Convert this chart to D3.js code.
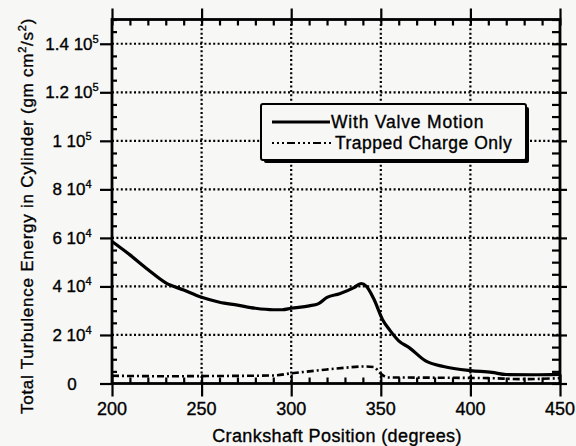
<!DOCTYPE html>
<html>
<head>
<meta charset="utf-8">
<script src="https://cdn.jsdelivr.net/npm/d3@7"></script>
<style>
  body { margin: 0; background: #f7f8f6; }
  svg { display: block; font-family: "Liberation Sans", Arial, sans-serif; }
  text { fill: #000; stroke: #000; stroke-width: 0.35px; }
</style>
</head>
<body>
<div id="chart"></div>
<script>
// crank angle (degrees) and turbulence energy
const valveDeg = [200, 210, 220, 230, 240, 250, 260, 270, 280, 290, 295, 300, 310, 315, 320, 327, 335, 339, 342, 346, 351, 355, 360, 366, 375, 385, 400, 412, 420, 435, 450];
const valveE   = [58500, 53000, 47000, 41500, 38500, 35500, 33500, 32300, 31000, 30400, 30400, 31000, 32000, 32800, 35500, 37000, 39500, 41200, 40000, 35000, 26300, 22000, 17600, 14700, 9300, 7000, 5300, 4600, 3700, 3600, 3800];

const trappedDeg = [200, 230, 260, 290, 300, 310, 320, 330, 340, 346, 350, 354, 380, 410, 430, 450];
const trappedE   = [3200, 3000, 3100, 3300, 4200, 5000, 5800, 6500, 7000, 6800, 4000, 2500, 2400, 2200, 1800, 2200];

const xTicks = [200, 250, 300, 350, 400, 450];
const yTicks = [0, 20000, 40000, 60000, 80000, 100000, 120000, 140000];
const yTickMant = ["0", "2", "4", "6", "8", "1", "1.2", "1.4"];
const yTickExp  = ["", "4", "4", "4", "4", "5", "5", "5"];

const seriesNames = ["With Valve Motion", "Trapped Charge Only"];
const xTitle = "Crankshaft Position (degrees)";

const W = 576, H = 446;
const pLeft = 112, pRight = 560, pTop = 19.5, pBottom = 383.5;

const svg = d3.select("#chart").append("svg")
    .attr("width", W).attr("height", H);

const x = d3.scaleLinear().domain([200, 450]).range([pLeft, pRight]);
const y = d3.scaleLinear().domain([0, 150000]).range([pBottom, pTop]);

const minorX = d3.range(200, 451, 10).filter(d => d % 50 !== 0);
const minorY = d3.range(0, 150001, 5000).filter(d => d % 20000 !== 0);

// dotted grid
const grid = svg.append("g")
    .attr("stroke", "#000").attr("stroke-width", 2.2)
    .attr("stroke-dasharray", "2,2.4").attr("stroke-linecap", "butt");
grid.selectAll(".gx").data(xTicks.slice(1, -1)).enter().append("line")
    .attr("x1", d => x(d)).attr("x2", d => x(d))
    .attr("y1", pTop).attr("y2", pBottom);
grid.selectAll(".gy").data(yTicks.slice(1)).enter().append("line")
    .attr("x1", pLeft).attr("x2", pRight)
    .attr("y1", d => y(d)).attr("y2", d => y(d));

// curves
const line = d3.line().curve(d3.curveMonotoneX);
const valvePts = valveDeg.map((d, i) => [x(d), y(valveE[i])]);
const trappedPts = trappedDeg.map((d, i) => [x(d), y(trappedE[i])]);

svg.append("path").attr("d", line(trappedPts))
    .attr("fill", "none").attr("stroke", "#000").attr("stroke-width", 2.6)
    .attr("stroke-dasharray", "7,3,2,3");
svg.append("path").attr("d", line(valvePts))
    .attr("fill", "none").attr("stroke", "#000").attr("stroke-width", 3.2)
    .attr("stroke-linejoin", "round");

// axes helper
function styleAxis(g) {
    g.select(".domain").remove();
    g.selectAll(".tick line").attr("stroke", "#000").attr("stroke-width", 2.2);
    g.selectAll(".tick text").remove();
}

// bottom: major ticks out, all ticks in
svg.append("g").attr("transform", `translate(0,${pBottom})`)
    .call(d3.axisBottom(x).tickValues(xTicks).tickSize(13)).call(styleAxis);
svg.append("g").attr("transform", `translate(0,${pBottom})`)
    .call(d3.axisTop(x).tickValues(xTicks).tickSize(9)).call(styleAxis);
svg.append("g").attr("transform", `translate(0,${pBottom})`)
    .call(d3.axisTop(x).tickValues(minorX).tickSize(6)).call(styleAxis);
// top
svg.append("g").attr("transform", `translate(0,${pTop})`)
    .call(d3.axisTop(x).tickValues(xTicks).tickSize(11)).call(styleAxis);
svg.append("g").attr("transform", `translate(0,${pTop})`)
    .call(d3.axisBottom(x).tickValues(minorX.concat(xTicks)).tickSize(6)).call(styleAxis);
// left
svg.append("g").attr("transform", `translate(${pLeft},0)`)
    .call(d3.axisLeft(y).tickValues(yTicks).tickSize(12)).call(styleAxis);
svg.append("g").attr("transform", `translate(${pLeft},0)`)
    .call(d3.axisRight(y).tickValues(minorY).tickSize(5)).call(styleAxis);
// right
svg.append("g").attr("transform", `translate(${pRight},0)`)
    .call(d3.axisRight(y).tickValues(yTicks).tickSize(7)).call(styleAxis);
svg.append("g").attr("transform", `translate(${pRight},0)`)
    .call(d3.axisLeft(y).tickValues(minorY.concat(yTicks)).tickSize(8)).call(styleAxis);

// frame
svg.append("rect").attr("x", pLeft).attr("y", pTop)
    .attr("width", pRight - pLeft).attr("height", pBottom - pTop)
    .attr("fill", "none").attr("stroke", "#000").attr("stroke-width", 2.8);

// tick labels
svg.append("g").selectAll("text").data(xTicks).enter().append("text")
    .attr("x", d => x(d)).attr("y", 415)
    .attr("text-anchor", "middle").attr("font-size", 18)
    .text(d => d);

const yl = svg.append("g").selectAll("text").data(yTicks).enter().append("text")
    .attr("x", 72).attr("y", d => y(d) + 6)
    .attr("text-anchor", "middle").attr("font-size", 17);
yl.append("tspan").text((d, i) => yTickExp[i] ? yTickMant[i] + " 10" : yTickMant[i]);
yl.append("tspan").attr("dy", -7).attr("font-size", 11)
    .text((d, i) => yTickExp[i]);

// axis titles
svg.append("text").attr("x", 337).attr("y", 442)
    .attr("text-anchor", "middle").attr("font-size", 18)
    .attr("letter-spacing", 0.4).text(xTitle);

const yt = svg.append("text")
    .attr("transform", "translate(33,216) rotate(-90)")
    .attr("text-anchor", "middle").attr("font-size", 17)
    .attr("letter-spacing", 0.75);
yt.append("tspan").text("Total Turbulence Energy in Cylinder (gm cm");
yt.append("tspan").attr("dy", -7).attr("font-size", 11).text("2");
yt.append("tspan").attr("dy", 7).text("/s");
yt.append("tspan").attr("dy", -7).attr("font-size", 11).text("2");
yt.append("tspan").attr("dy", 7).text(")");

// legend
const lg = svg.append("g");
lg.append("rect").attr("x", 264).attr("y", 107).attr("width", 265).attr("height", 56)
    .attr("fill", "#000").attr("rx", 2);
lg.append("rect").attr("x", 261).attr("y", 104).attr("width", 265).attr("height", 56)
    .attr("fill", "#f7f8f6").attr("stroke", "#000").attr("stroke-width", 2).attr("rx", 2);
lg.append("line").attr("x1", 272).attr("x2", 330).attr("y1", 122).attr("y2", 122)
    .attr("stroke", "#000").attr("stroke-width", 3);
lg.append("line").attr("x1", 272).attr("x2", 332).attr("y1", 143).attr("y2", 143)
    .attr("stroke", "#000").attr("stroke-width", 2.2).attr("stroke-dasharray", "2,3,2,3,2,3,8,3");
lg.append("text").attr("x", 331).attr("y", 128).attr("font-size", 17.5)
    .attr("letter-spacing", 0.8).text(seriesNames[0]);
lg.append("text").attr("x", 335).attr("y", 149).attr("font-size", 17.5)
    .attr("letter-spacing", 0.5).text(seriesNames[1]);
</script>
</body>
</html>
